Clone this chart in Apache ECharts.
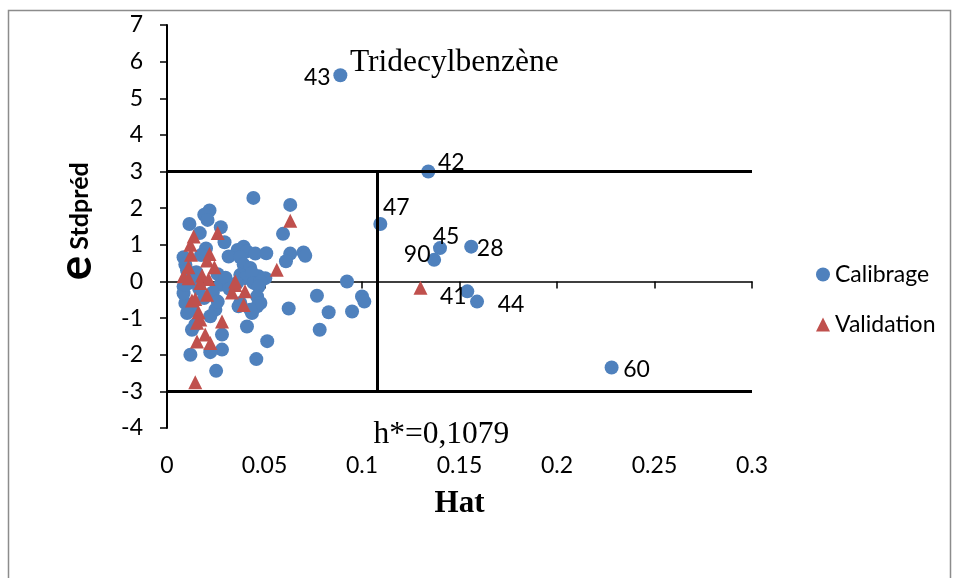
<!DOCTYPE html>
<html>
<head>
<meta charset="utf-8">
<script src="https://cdn.jsdelivr.net/npm/echarts@6/dist/echarts.min.js"></script>
<style>
  html, body { margin: 0; padding: 0; background: #fff; }
  #chart { width: 956px; height: 578px; }
</style>
</head>
<body>
<div id="chart"></div>
<script>
// Williams plot: standardised prediction residual against leverage (Hat)
const xTickLabels = ['0', '0.05', '0.1', '0.15', '0.2', '0.25', '0.3'];
const yTickLabels = ['-4', '-3', '-2', '-1', '0', '1', '2', '3', '4', '5', '6', '7'];
const hStar = 0.1079;          // warning leverage h*
const residualLimit = 3;       // +/- 3 standard deviations

// identified compounds of the training set
const namedIds = ['43', '42', '47', '45', '90', '28', '41', '44', '60'];
const namedHat = [0.0889, 0.134, 0.1094, 0.140, 0.137, 0.156, 0.154, 0.159, 0.228];
const namedE   = [5.63, 3.00, 1.57, 0.91, 0.59, 0.95, -0.27, -0.55, -2.35];
const outlierName = 'Tridecylbenzène';

// remaining training-set compounds [hat, e]
const calibrage = [
  [0.0443, 2.28], [0.0632, 2.09], [0.0595, 1.30], [0.0632, 0.76], [0.0700, 0.79],
  [0.0709, 0.70], [0.0610, 0.55], [0.0923, 0.00], [0.1000, -0.41], [0.1012, -0.55],
  [0.0769, -0.39], [0.0624, -0.74], [0.0829, -0.84], [0.0949, -0.82], [0.0783, -1.32],
  [0.0514, -1.63], [0.0458, -2.12], [0.0252, -2.44], [0.0120, -2.00],
  [0.0218, 1.94], [0.0191, 1.82], [0.0208, 1.68], [0.0115, 1.57], [0.0276, 1.48],
  [0.0168, 1.32], [0.0295, 1.07], [0.0393, 0.95], [0.0362, 0.86], [0.0410, 0.82],
  [0.0453, 0.76], [0.0509, 0.77], [0.0085, 0.66], [0.0316, 0.68], [0.0376, 0.66],
  [0.0393, 0.46], [0.0427, 0.37], [0.0470, 0.14], [0.0504, 0.09], [0.0376, 0.18],
  [0.0400, 0.09], [0.0436, 0.23], [0.0113, -0.04], [0.0274, -0.09], [0.0359, -0.04],
  [0.0444, -0.04], [0.0479, 0.00], [0.0470, -0.14], [0.0462, -0.41], [0.0479, -0.59],
  [0.0094, -0.59], [0.0128, -0.77], [0.0103, -0.86], [0.0248, -0.77], [0.0222, -0.95],
  [0.0436, -0.86], [0.0462, -0.68], [0.0376, -0.59], [0.0367, -0.68], [0.0427, -0.77],
  [0.0410, -1.23], [0.0128, -1.32], [0.0145, -1.18], [0.0282, -1.45], [0.0282, -1.86],
  [0.0222, -1.93], [0.0085, -0.14], [0.0085, -0.32], [0.0094, 0.46], [0.0103, 0.30],
  [0.0145, 0.05], [0.0165, -0.20], [0.0190, -0.45], [0.0150, 0.25], [0.0235, -0.30],
  [0.0200, 0.90], [0.0175, 0.72], [0.0094, -0.09], [0.0260, 0.20], [0.0300, 0.10],
  [0.0320, -0.20], [0.0260, -0.55]
];

// test-set compounds [hat, e]
const validation = [
  [0.1300, -0.17], [0.0632, 1.66], [0.0563, 0.32], [0.0260, 1.32], [0.0137, 1.23],
  [0.0120, 1.00], [0.0123, 0.73], [0.0218, 0.75], [0.0205, 0.57], [0.0243, 0.39],
  [0.0110, 0.39], [0.0085, 0.14], [0.0180, 0.16], [0.0213, 0.07], [0.0171, -0.04],
  [0.0350, -0.10], [0.0400, -0.27], [0.0333, -0.30], [0.0128, -0.52], [0.0205, -0.36],
  [0.0162, -0.84], [0.0171, -1.04], [0.0154, -1.13], [0.0196, -1.45], [0.0154, -1.64],
  [0.0222, -1.68], [0.0393, -0.64], [0.0282, -1.09], [0.0145, -2.75], [0.0111, 0.09],
  [0.0350, 0.00], [0.0145, -0.48]
];

// label placement around each identified point (pixels)
const labelOffsets = {
  '43': [-23, 2], '42': [23, -9], '47': [16, -16], '45': [6, -12], '90': [-17, -5],
  '28': [19, 2], '41': [-14, 5], '44': [34, 3], '60': [25, 2]
};

const SANS = 'Lato';
const SERIF = 'Liberation Serif';
const BLUE = '#4F81BD';
const RED = '#C0504D';
const TEXT_SIZE = 23;

const calibData = calibrage.map(p => ({ value: p }));
namedIds.forEach((id, i) => {
  calibData.push({
    value: [namedHat[i], namedE[i]],
    label: {
      show: true,
      formatter: id,
      position: 'inside',
      offset: labelOffsets[id],
      fontFamily: SANS,
      fontSize: TEXT_SIZE,
      color: '#000'
    }
  });
});

const chart = echarts.init(document.getElementById('chart'), null, { renderer: 'canvas' });

const option = {
  animation: false,
  backgroundColor: '#fff',
  grid: { left: 167, right: 204, top: 25, bottom: 150, containLabel: false },
  legend: {
    orient: 'vertical',
    left: 811,
    top: 258,
    itemWidth: 14,
    itemHeight: 14,
    itemGap: 27,
    textStyle: { fontFamily: SANS, fontSize: TEXT_SIZE, color: '#000' },
    data: [
      { name: 'Calibrage', icon: 'circle' },
      { name: 'Validation', icon: 'triangle' }
    ]
  },
  xAxis: [
    {
      type: 'value',
      min: 0, max: 0.3, interval: 0.05,
      position: 'bottom',
      axisLine: { show: false, onZero: false },
      axisTick: { show: false },
      splitLine: { show: false },
      axisLabel: {
        margin: 26,
        fontFamily: SANS, fontSize: TEXT_SIZE, color: '#000',
        formatter: (v, i) => xTickLabels[i]
      },
      name: 'Hat',
      nameLocation: 'middle',
      nameGap: 60,
      nameTextStyle: { fontFamily: SERIF, fontWeight: 'bold', fontSize: 31, color: '#000' }
    },
    {
      type: 'value',
      min: 0, max: 0.3, interval: 0.05,
      position: 'top',
      axisLine: { show: true, onZero: true, lineStyle: { color: '#000', width: 1.5 } },
      axisTick: { show: true, inside: true, length: 7, lineStyle: { color: '#000', width: 1.5 } },
      axisLabel: { show: false },
      splitLine: { show: false }
    }
  ],
  yAxis: {
    type: 'value',
    min: -4, max: 7, interval: 1,
    axisLine: { show: true, onZero: false, lineStyle: { color: '#000', width: 2 } },
    axisTick: { show: true, length: 7, lineStyle: { color: '#000', width: 1.5 } },
    splitLine: { show: false },
    axisLabel: {
      margin: 24,
      fontFamily: SANS, fontSize: TEXT_SIZE, color: '#000',
      formatter: (v, i) => yTickLabels[i]
    }
  },
  graphic: [
    {
      type: 'rect',
      shape: { x: 8.5, y: 10.5, width: 942, height: 620 },
      style: { fill: 'none', stroke: '#8c8c8c', lineWidth: 1.5 },
      silent: true, z: -10
    },
    {
      type: 'text',
      x: 76, y: 268,
      rotation: Math.PI / 2,
      style: {
        text: 'e', fontFamily: SANS, fontWeight: 'bold', fontSize: 46,
        fill: '#000', textAlign: 'center', textVerticalAlign: 'middle'
      }
    },
    {
      type: 'text',
      x: 80, y: 206,
      rotation: Math.PI / 2,
      style: {
        text: 'Stdpréd', fontFamily: SANS, fontWeight: 'bold', fontSize: 25,
        fill: '#000', textAlign: 'center', textVerticalAlign: 'middle'
      }
    }
  ],
  series: [
    {
      name: 'Calibrage',
      type: 'scatter',
      xAxisIndex: 0,
      symbol: 'circle',
      symbolSize: 14,
      itemStyle: { color: BLUE, opacity: 1 },
      data: calibData,
      z: 3
    },
    {
      name: 'Validation',
      type: 'scatter',
      xAxisIndex: 0,
      symbol: 'triangle',
      symbolSize: 14,
      itemStyle: { color: RED, opacity: 1 },
      data: validation,
      z: 4
    },
    {
      // applicability-domain limits and their annotations
      name: 'limits',
      type: 'scatter',
      xAxisIndex: 0,
      data: [],
      silent: true,
      z: 2,
      markLine: {
        silent: true,
        symbol: ['none', 'none'],
        label: { show: false },
        lineStyle: { color: '#000', width: 3, type: 'solid' },
        data: [
          [{ coord: [0, residualLimit] }, { coord: [0.3, residualLimit] }],
          [{ coord: [0, -residualLimit] }, { coord: [0.3, -residualLimit] }],
          [{ coord: [hStar, residualLimit] }, { coord: [hStar, -residualLimit] }]
        ]
      },
      markPoint: {
        silent: true,
        symbol: 'circle',
        symbolSize: 0,
        data: [
          {
            coord: [namedHat[0], namedE[0]],
            label: {
              show: true, formatter: outlierName, position: 'inside', offset: [114, -12],
              fontFamily: SERIF, fontSize: 31.5, color: '#000'
            }
          },
          {
            coord: [hStar, -residualLimit],
            label: {
              show: true, formatter: 'h*=0,' + String(hStar).split('.')[1], position: 'inside',
              offset: [64, 43], fontFamily: SERIF, fontSize: 31.5, color: '#000'
            }
          }
        ]
      }
    }
  ]
};

chart.setOption(option);
</script>
</body>
</html>
